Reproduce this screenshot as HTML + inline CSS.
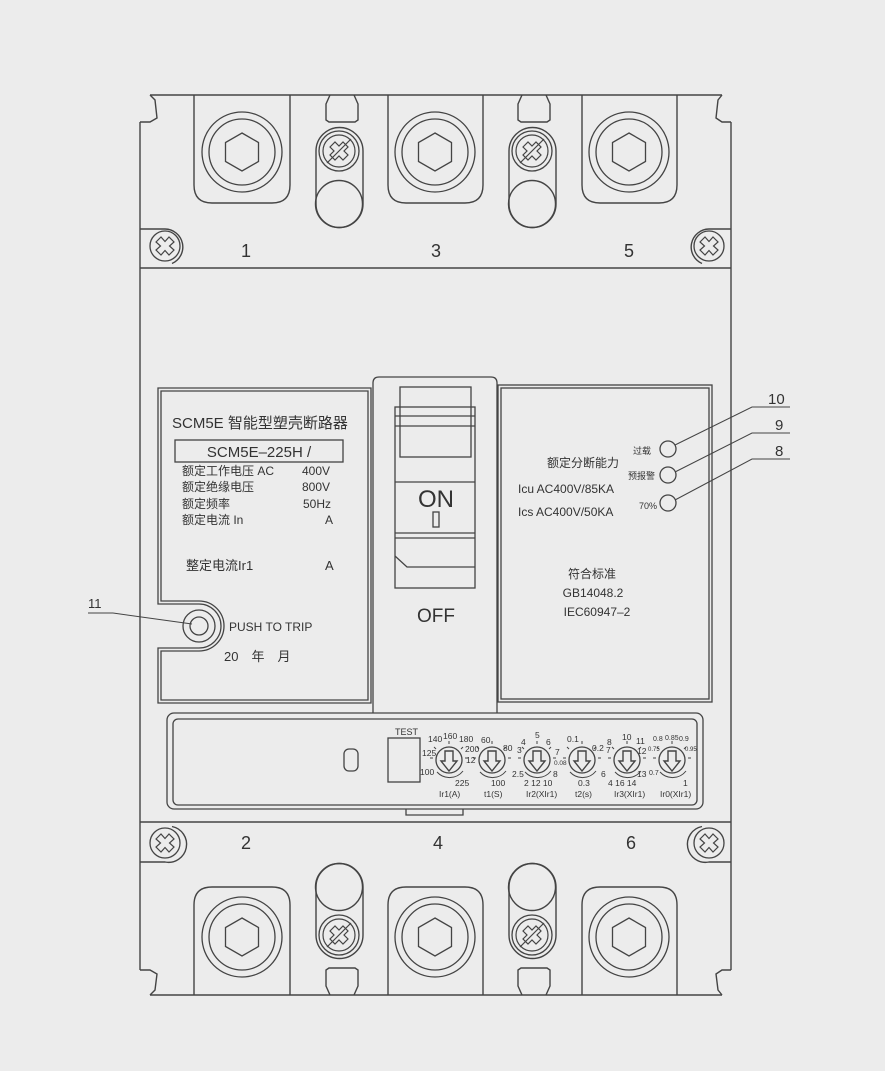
<!DOCTYPE html>
<html><head><meta charset="utf-8"><style>
html,body{margin:0;padding:0;background:#ececec;}
svg{display:block;}
text{font-family:"Liberation Sans","Noto Sans CJK SC",sans-serif;fill:#333;}
</style></head><body>
<svg width="885" height="1071" viewBox="0 0 885 1071" xmlns="http://www.w3.org/2000/svg">
<defs>
<g id="screwX"><circle r="15" fill="none" stroke="#444" stroke-width="1.3"/>
<path d="M-9,-4 L-4,-9 L0,-4.5 L4,-9 L9,-4 L4.5,0 L9,4 L4,9 L0,4.5 L-4,9 L-9,4 L-4.5,0 Z" fill="none" stroke="#444" stroke-width="1.2"/></g>
<g id="screwSm"><circle r="20" fill="none" stroke="#444" stroke-width="1.3"/><circle r="16" fill="none" stroke="#444" stroke-width="1.2"/>
<path d="M-9,-4 L-4,-9 L0,-5 L4,-9 L9,-4 L5,0 L9,4 L4,9 L0,5 L-4,9 L-9,4 L-5,0 Z" fill="none" stroke="#444" stroke-width="1.2"/>
<line x1="-12" y1="12" x2="12" y2="-12" stroke="#444" stroke-width="1.2"/></g>
<g id="bolt"><circle r="40" fill="none" stroke="#444" stroke-width="1.3"/><circle r="33" fill="none" stroke="#444" stroke-width="1.3"/>
<polygon points="0,-19 16.5,-9.5 16.5,9.5 0,19 -16.5,9.5 -16.5,-9.5" fill="none" stroke="#444" stroke-width="1.3"/></g>
<g id="knob"><circle r="13" fill="none" stroke="#444" stroke-width="1.3"/>
<path d="M-4,-9 L4,-9 L4,1 L8,1 L0,11 L-8,1 L-4,1 Z" fill="none" stroke="#444" stroke-width="1.4"/>
<path d="M-12,12 A17,17 0 0 0 14,11" fill="none" stroke="#444" stroke-width="1"/>
<path d="M-16,-2 l-3,0 M-13,-11 l-2,-2 M0,-16 l0,-3 M12,-11 l2,-2 M16,-2 l3,0" stroke="#444" stroke-width="1"/></g>
</defs>
<g fill="none" stroke="#444" stroke-width="1.4">
<path d="M150,95 L722,95"/>
<path d="M140,122 L150,122 L157,118 L155,100 L150,95"/>
<path d="M731,122 L722,122 L716,118 L718,100 L722,95"/>
<path d="M140,122 L140,970"/>
<path d="M731,122 L731,970"/>
<path d="M150,995 L722,995"/>
<path d="M140,970 L150,970 L157,974 L155,990 L150,995"/>
<path d="M731,970 L722,970 L716,974 L718,990 L722,995"/>
<line x1="140" y1="268" x2="731" y2="268"/>
<line x1="140" y1="822" x2="731" y2="822"/>
<path d="M194,95 L194,185 Q194,203 212,203 L272,203 Q290,203 290,185 L290,95"/>
<path d="M388,95 L388,185 Q388,203 406,203 L465,203 Q483,203 483,185 L483,95"/>
<path d="M582,95 L582,185 Q582,203 600,203 L659,203 Q677,203 677,185 L677,95"/>
<path d="M194,995 L194,905 Q194,887 212,887 L272,887 Q290,887 290,905 L290,995"/>
<path d="M388,995 L388,905 Q388,887 406,887 L465,887 Q483,887 483,905 L483,995"/>
<path d="M582,995 L582,905 Q582,887 600,887 L659,887 Q677,887 677,905 L677,995"/>
<path d="M330,95 L326,104 L326,120 L329,122 L355,122 L358,120 L358,104 L354,95"/>
<path d="M522,95 L518,104 L518,120 L521,122 L547,122 L550,120 L550,104 L546,95"/>
<path d="M330,995 L326,986 L326,970 L329,968 L355,968 L358,970 L358,986 L354,995"/>
<path d="M522,995 L518,986 L518,970 L521,968 L547,968 L550,970 L550,986 L546,995"/>
<path d="M316,151 A23.5,23.5 0 0 1 363,151 L363,204 A23.5,23.5 0 0 1 316,204 Z"/>
<circle cx="339" cy="204" r="23.5"/>
<path d="M509,151 A23.5,23.5 0 0 1 556,151 L556,204 A23.5,23.5 0 0 1 509,204 Z"/>
<circle cx="532" cy="204" r="23.5"/>
<path d="M316,935 A23.5,23.5 0 0 0 363,935 L363,887 A23.5,23.5 0 0 0 316,887 Z"/>
<circle cx="339" cy="887" r="23.5"/>
<path d="M509,935 A23.5,23.5 0 0 0 556,935 L556,887 A23.5,23.5 0 0 0 509,887 Z"/>
<circle cx="532" cy="887" r="23.5"/>
<path d="M140,229 L165,229 A18,18 0 0 1 172,263.5"/>
<path d="M731,229 L709,229 A18,18 0 0 0 702,263.5"/>
<path d="M140,862 L165,862 A18,18 0 0 0 172,826.5"/>
<path d="M731,862 L709,862 A18,18 0 0 1 702,826.5"/>
</g>
<use href="#bolt" x="242" y="152"/><use href="#bolt" x="435" y="152"/><use href="#bolt" x="629" y="152"/>
<use href="#bolt" x="242" y="937"/><use href="#bolt" x="435" y="937"/><use href="#bolt" x="629" y="937"/>
<use href="#screwSm" x="339" y="151"/><use href="#screwSm" x="532" y="151"/>
<use href="#screwSm" x="339" y="935"/><use href="#screwSm" x="532" y="935"/>
<use href="#screwX" x="165" y="246"/><use href="#screwX" x="709" y="246"/>
<use href="#screwX" x="165" y="843"/><use href="#screwX" x="709" y="843"/>
<g font-size="18" text-anchor="middle">
<text x="246" y="257">1</text><text x="436" y="257">3</text><text x="629" y="257">5</text>
<text x="246" y="849">2</text><text x="438" y="849">4</text><text x="631" y="849">6</text>
</g>
<g fill="none" stroke="#444" stroke-width="1.3">
<path d="M158,388 L371,388 L371,703 L158,703 L158,648 L199,648 A22,22 0 0 0 199,604 L158,604 Z"/>
<path d="M161,391 L368,391 L368,700 L161,700 L161,651 L199,651 A25,25 0 0 0 199,601 L161,601 Z"/>
<circle cx="199" cy="626" r="16"/><circle cx="199" cy="626" r="9"/>
<rect x="175" y="440" width="168" height="22"/>
<line x1="88" y1="613" x2="113" y2="613" stroke-width="1"/>
<line x1="113" y1="613" x2="192" y2="624" stroke-width="1"/>
<path d="M373,713 L373,383 Q373,377 379,377 L491,377 Q497,377 497,383 L497,713"/>
<rect x="395" y="407" width="80" height="181"/>
<rect x="400" y="387" width="71" height="70"/>
<line x1="395" y1="416" x2="475" y2="416"/><line x1="395" y1="426" x2="475" y2="426"/>
<line x1="395" y1="482" x2="475" y2="482"/><line x1="395" y1="533" x2="475" y2="533"/><line x1="395" y1="538" x2="475" y2="538"/>
<path d="M395,556 L407,567 L475,567"/>
<rect x="433" y="512" width="6" height="15"/>
<rect x="498" y="385" width="214" height="317"/>
<rect x="501" y="388" width="208" height="311"/>
<circle cx="668" cy="449" r="8"/><circle cx="668" cy="475" r="8"/><circle cx="668" cy="503" r="8"/>
<g stroke-width="1"><path d="M675,445 L752,407 L790,407"/><path d="M675,472 L752,433 L790,433"/><path d="M675,500 L752,459 L790,459"/></g>
<rect x="167" y="713" width="536" height="96" rx="7"/>
<rect x="173" y="719" width="524" height="86" rx="5"/>
<path d="M406,809 L406,815 L463,815 L463,809"/>
<rect x="388" y="738" width="32" height="44"/>
<rect x="344" y="749" width="14" height="22" rx="5"/>
</g>
<use href="#knob" x="449" y="760"/><use href="#knob" x="492" y="760"/><use href="#knob" x="537" y="760"/>
<use href="#knob" x="582" y="760"/><use href="#knob" x="627" y="760"/><use href="#knob" x="672" y="760"/>
<g>
<text x="172" y="428" font-size="15">SCM5E 智能型塑壳断路器</text>
<text x="259" y="457" font-size="15" text-anchor="middle">SCM5E–225H /</text>
<g font-size="12"><text x="182" y="475">额定工作电压 AC</text><text x="302" y="475">400V</text>
<text x="182" y="491">额定绝缘电压</text><text x="302" y="491">800V</text>
<text x="182" y="508">额定频率</text><text x="303" y="508">50Hz</text>
<text x="182" y="524">额定电流 In</text><text x="325" y="524">A</text></g>
<text x="186" y="570" font-size="13">整定电流Ir1</text><text x="325" y="570" font-size="13">A</text>
<text x="229" y="631" font-size="12">PUSH TO TRIP</text>
<text x="224" y="661" font-size="13">20　年　月</text>
<text x="88" y="608" font-size="13">11</text>
<text x="436" y="507" font-size="24" text-anchor="middle">ON</text>
<text x="436" y="622" font-size="19" text-anchor="middle">OFF</text>
<text x="583" y="467" font-size="12" text-anchor="middle">额定分断能力</text>
<text x="518" y="493" font-size="12">Icu AC400V/85KA</text>
<text x="518" y="516" font-size="12">Ics AC400V/50KA</text>
<text x="651" y="454" font-size="9" text-anchor="end">过载</text>
<text x="655" y="479" font-size="9" text-anchor="end">预报警</text>
<text x="657" y="509" font-size="9" text-anchor="end">70%</text>
<text x="592" y="578" font-size="12" text-anchor="middle">符合标准</text>
<text x="593" y="597" font-size="12" text-anchor="middle">GB14048.2</text>
<text x="597" y="616" font-size="12" text-anchor="middle">IEC60947–2</text>
<text x="768" y="404" font-size="15">10</text>
<text x="775" y="430" font-size="15">9</text>
<text x="775" y="456" font-size="15">8</text>
<text x="395" y="735" font-size="9">TEST</text>
<g font-size="8.5">
<text x="428" y="742">140</text><text x="443" y="739">160</text><text x="459" y="742">180</text>
<text x="422" y="756">125</text><text x="465" y="752">200</text><text x="466" y="763">12</text>
<text x="420" y="775">100</text><text x="455" y="786">225</text><text x="439" y="797">Ir1(A)</text>
<text x="481" y="743">60</text><text x="503" y="751">80</text><text x="491" y="786">100</text><text x="484" y="797">t1(S)</text>
<text x="535" y="738">5</text><text x="521" y="745">4</text><text x="546" y="745">6</text><text x="517" y="753">3</text>
<text x="555" y="755">7</text><text x="554" y="765" font-size="6.5">0.08</text><text x="512" y="777">2.5</text><text x="553" y="777">8</text>
<text x="524" y="786">2 12 10</text><text x="526" y="797">Ir2(XIr1)</text>
<text x="567" y="742">0.1</text><text x="592" y="751">0.2</text><text x="578" y="786">0.3</text><text x="575" y="797">t2(s)</text>
<text x="622" y="740">10</text><text x="607" y="745">8</text><text x="636" y="744">11</text><text x="606" y="753">7</text>
<text x="637" y="754">12</text><text x="601" y="777">6</text><text x="637" y="777">13</text><text x="608" y="786">4 16 14</text>
<text x="614" y="797">Ir3(XIr1)</text>
<text x="653" y="741" font-size="7">0.8</text><text x="665" y="740" font-size="7">0.85</text><text x="679" y="741" font-size="7">0.9</text>
<text x="648" y="751" font-size="6">0.75</text><text x="685" y="751" font-size="6">0.95</text><text x="649" y="775" font-size="7">0.7</text>
<text x="683" y="786">1</text><text x="660" y="797">Ir0(XIr1)</text>
</g>
</g>
</svg>
</body></html>
